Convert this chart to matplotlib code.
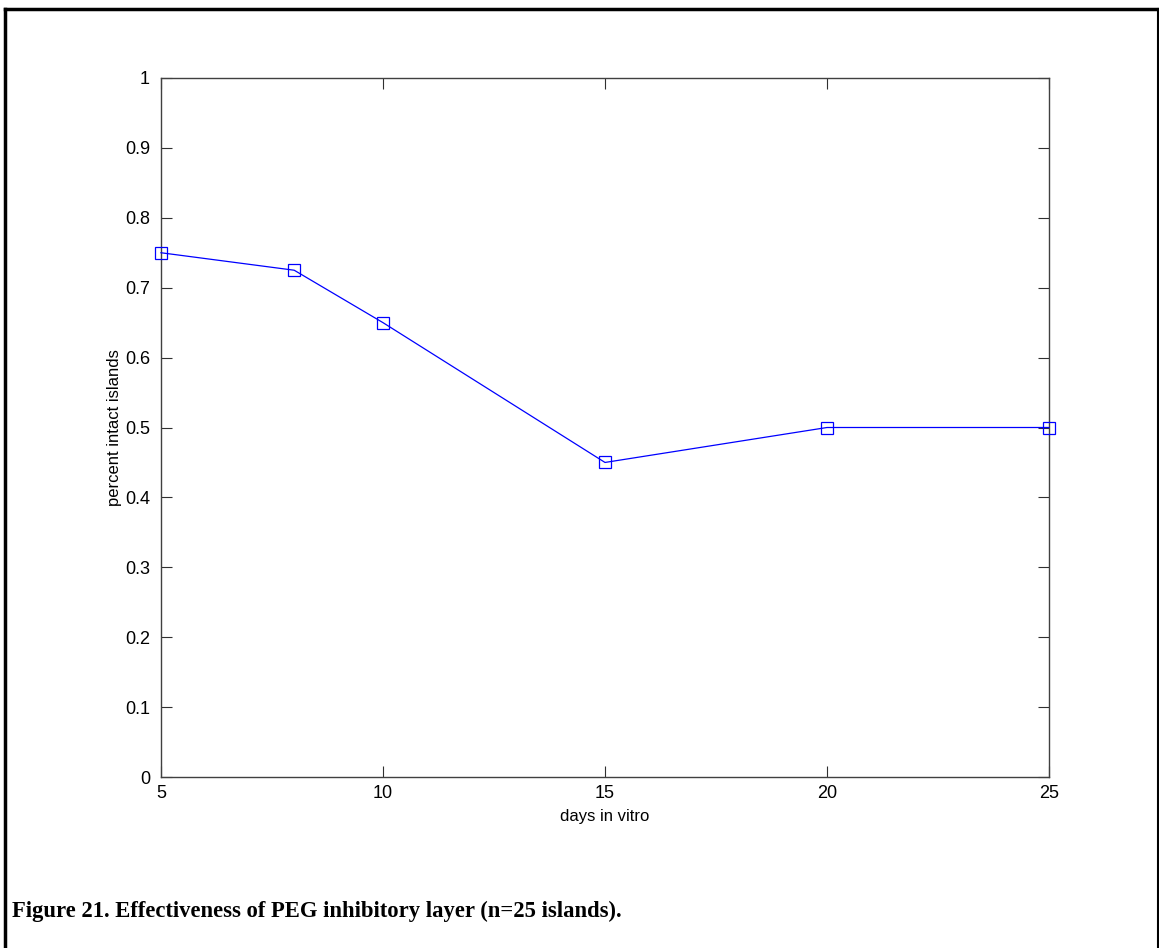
import matplotlib
matplotlib.use("Agg")
import matplotlib.pyplot as plt
from matplotlib.lines import Line2D

days = [5, 8, 10, 15, 20, 25]
intact = [0.75, 0.725, 0.65, 0.45, 0.5, 0.5]
xticks = [5, 10, 15, 20, 25]
yticks = [0, 0.1, 0.2, 0.3, 0.4, 0.5, 0.6, 0.7, 0.8, 0.9, 1]
ytick_labels = ["0", "0.1", "0.2", "0.3", "0.4", "0.5", "0.6", "0.7", "0.8", "0.9", "1"]

W, H = 1159, 948
fig = plt.figure(figsize=(W / 100, H / 100), dpi=100)
ax = fig.add_axes([161 / W, 1 - 777 / H, (1049 - 161) / W, (777 - 78) / H])

ax.plot(days, intact, color="#0000ff", lw=0.9, marker="s", markersize=8,
        markerfacecolor="none", markeredgecolor="#0000ff", markeredgewidth=0.9,
        clip_on=False, zorder=5)

ax.set_xlim(5, 25)
ax.set_ylim(0, 1)
ax.set_xticks(xticks)
ax.set_xticklabels([str(t) for t in xticks])
ax.set_yticks(yticks)
ax.set_yticklabels(ytick_labels)

tfont = dict(family=["Liberation Sans", "DejaVu Sans"], size=13)
for lab in ax.get_xticklabels() + ax.get_yticklabels():
    lab.set_fontfamily(tfont["family"])
    lab.set_fontsize(tfont["size"])

ax.tick_params(direction="in", length=8, width=0.8, color="#303030",
               top=True, right=True, labelcolor="black")
ax.tick_params(axis="x", pad=6)
ax.tick_params(axis="y", pad=8)
for s in ax.spines.values():
    s.set_color("#404040")
    s.set_linewidth(1.0)

ax.set_xlabel("days in vitro", fontsize=12, family=["Liberation Sans", "DejaVu Sans"], labelpad=5)
ax.set_ylabel("percent intact islands", fontsize=12, family=["Liberation Sans", "DejaVu Sans"], labelpad=2)

# caption
fig.text(12 / W, 1 - 917 / H, "Figure 21. Effectiveness of PEG inhibitory layer (n=25 islands).",
         fontsize=16.3, fontweight="bold", family=["Liberation Serif", "DejaVu Serif"],
         ha="left", va="baseline")

# outer frame (top, left, right)
fig.add_artist(Line2D([5 / W, 5 / W], [0, 1 - 9 / H], transform=fig.transFigure, color="black", lw=2.5))
fig.add_artist(Line2D([5 / W, 1158 / W], [1 - 9 / H, 1 - 9 / H], transform=fig.transFigure, color="black", lw=2.5))
fig.add_artist(Line2D([1157.5 / W, 1157.5 / W], [0, 1 - 9 / H], transform=fig.transFigure, color="black", lw=1.5))

fig.savefig("out.png", dpi=100, facecolor="white")
